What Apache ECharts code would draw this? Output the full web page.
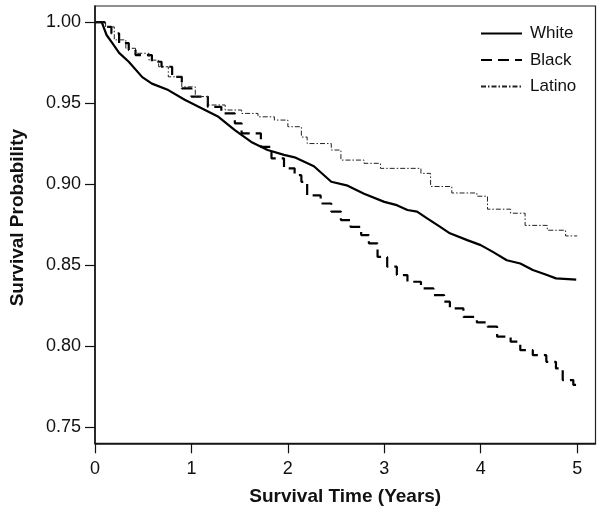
<!DOCTYPE html>
<html><head><meta charset="utf-8">
<script src="https://cdn.jsdelivr.net/npm/echarts@6/dist/echarts.min.js"></script>
<style>html,body{margin:0;padding:0;background:#fff}#c{width:600px;height:512px}</style>
</head><body><div id="c"></div>
<script>
var seriesNames = ['White', 'Black', 'Latino'];
var xTicks = [0, 1, 2, 3, 4, 5];
var yTicks = [0.75, 0.80, 0.85, 0.90, 0.95, 1.00];

var whiteT = [0, 0.07, 0.12, 0.18, 0.25, 0.35, 0.49, 0.59, 0.76, 0.93, 1.11, 1.28, 1.45, 1.62, 1.79, 1.96, 2.07, 2.27, 2.45, 2.62, 2.79, 3.0, 3.13, 3.24, 3.34, 3.44, 3.58, 3.68, 3.86, 4.0, 4.13, 4.27, 4.41, 4.54, 4.68, 4.78, 4.99];
var whiteS = [1.0, 1.0, 0.992, 0.987, 0.981, 0.9755, 0.966, 0.962, 0.958, 0.952, 0.9467, 0.9415, 0.9333, 0.926, 0.921, 0.918, 0.9165, 0.911, 0.9014, 0.899, 0.894, 0.889, 0.887, 0.884, 0.883, 0.879, 0.8736, 0.8696, 0.8654, 0.8623, 0.858, 0.853, 0.851, 0.847, 0.844, 0.8418, 0.841];

var blackT = [0, 0.07, 0.1, 0.17, 0.25, 0.35, 0.42, 0.59, 0.69, 0.8, 0.9, 1.0, 1.17, 1.31, 1.45, 1.52, 1.72, 1.83, 1.96, 2.07, 2.14, 2.2, 2.34, 2.45, 2.55, 2.65, 2.76, 2.84, 2.93, 3.03, 3.13, 3.24, 3.38, 3.51, 3.62, 3.68, 3.82, 3.96, 4.07, 4.17, 4.31, 4.41, 4.54, 4.68, 4.78, 4.85, 4.96, 5.0];
var blackS = [1.0, 1.0, 0.997, 0.993, 0.987, 0.9827, 0.9796, 0.9755, 0.9724, 0.9662, 0.959, 0.954, 0.9477, 0.9436, 0.9375, 0.9313, 0.923, 0.9159, 0.9097, 0.9055, 0.9014, 0.893, 0.888, 0.883, 0.8778, 0.8736, 0.8685, 0.8634, 0.855, 0.849, 0.8438, 0.8397, 0.8356, 0.8315, 0.8274, 0.8233, 0.818, 0.8146, 0.812, 0.8058, 0.8027, 0.7975, 0.7944, 0.7903, 0.7862, 0.779, 0.776, 0.776];

var latinoT = [0, 0.07, 0.11, 0.2, 0.32, 0.42, 0.56, 0.66, 0.76, 0.9, 1.04, 1.17, 1.35, 1.52, 1.69, 1.86, 2.0, 2.14, 2.2, 2.45, 2.55, 2.79, 2.96, 3.38, 3.48, 3.7, 3.96, 4.07, 4.31, 4.46, 4.69, 4.88, 5.0];
var latinoS = [1.0, 1.0, 0.997, 0.989, 0.9838, 0.9807, 0.9765, 0.9724, 0.9662, 0.96, 0.954, 0.9488, 0.9457, 0.9436, 0.9415, 0.9395, 0.9354, 0.929, 0.925, 0.921, 0.9148, 0.9128, 0.9097, 0.9066, 0.8985, 0.8945, 0.8925, 0.8845, 0.882, 0.8745, 0.8715, 0.868, 0.868];

function pairs(t, s) { return t.map(function (v, i) { return [v, s[i]]; }); }

var FONT = 'Liberation Sans, Arial, sans-serif';
var chart = echarts.init(document.getElementById('c'), null, {renderer: 'canvas'});
chart.setOption({
  animation: false,
  backgroundColor: '#fff',
  grid: {left: 92.7, right: 4.5, top: 6, bottom: 68.7, show: true, borderColor: '#222', borderWidth: 1.2, containLabel: false},
  legend: {
    orient: 'vertical', left: 475, top: 20, itemWidth: 41, itemHeight: 14, itemGap: 9.5,
    padding: 5,
    itemStyle: {opacity: 0},
    textStyle: {fontFamily: FONT, fontSize: 17, color: '#111', padding: [0, 0, 0, 3]},
    data: seriesNames
  },
  xAxis: {
    type: 'value', min: 0, max: 5.19,
    name: 'Survival Time (Years)', nameLocation: 'middle', nameGap: 44,
    nameTextStyle: {fontFamily: FONT, fontSize: 19, fontWeight: 'bold', color: '#111'},
    axisLine: {show: true, lineStyle: {color: '#111', width: 1.5}},
    axisTick: {show: true, length: 10, lineStyle: {color: '#111', width: 1.2}, customValues: xTicks},
    axisLabel: {fontFamily: FONT, fontSize: 18, color: '#111', margin: 17, customValues: xTicks, formatter: function (v) { return String(v); }},
    splitLine: {show: false}
  },
  yAxis: {
    type: 'value', min: 0.74, max: 1.0099,
    name: 'Survival Probability', nameLocation: 'middle', nameGap: 68,
    nameTextStyle: {fontFamily: FONT, fontSize: 19, fontWeight: 'bold', color: '#111', padding: [0, 0, 0, 14]},
    axisLine: {show: true, lineStyle: {color: '#111', width: 1.5}},
    axisTick: {show: true, length: 10, lineStyle: {color: '#111', width: 1.2}, customValues: yTicks},
    axisLabel: {fontFamily: FONT, fontSize: 18, color: '#111', margin: 14, customValues: yTicks, formatter: function (v) { return v.toFixed(2); }},
    splitLine: {show: false}
  },
  series: [
    {name: 'White', type: 'line', symbol: 'none', data: pairs(whiteT, whiteS),
     lineStyle: {color: '#000', width: 2.2, type: 'solid'}, itemStyle: {color: '#000'}},
    {name: 'Black', type: 'line', step: 'end', symbol: 'none', data: pairs(blackT, blackS),
     lineStyle: {color: '#000', width: 2.2, type: [11, 6]}, itemStyle: {color: '#000'}},
    {name: 'Latino', type: 'line', step: 'end', symbol: 'none', data: pairs(latinoT, latinoS),
     lineStyle: {color: '#222', width: 1, type: [5, 2, 1.5, 2]}, itemStyle: {color: '#222'}}
  ]
});
</script></body></html>
